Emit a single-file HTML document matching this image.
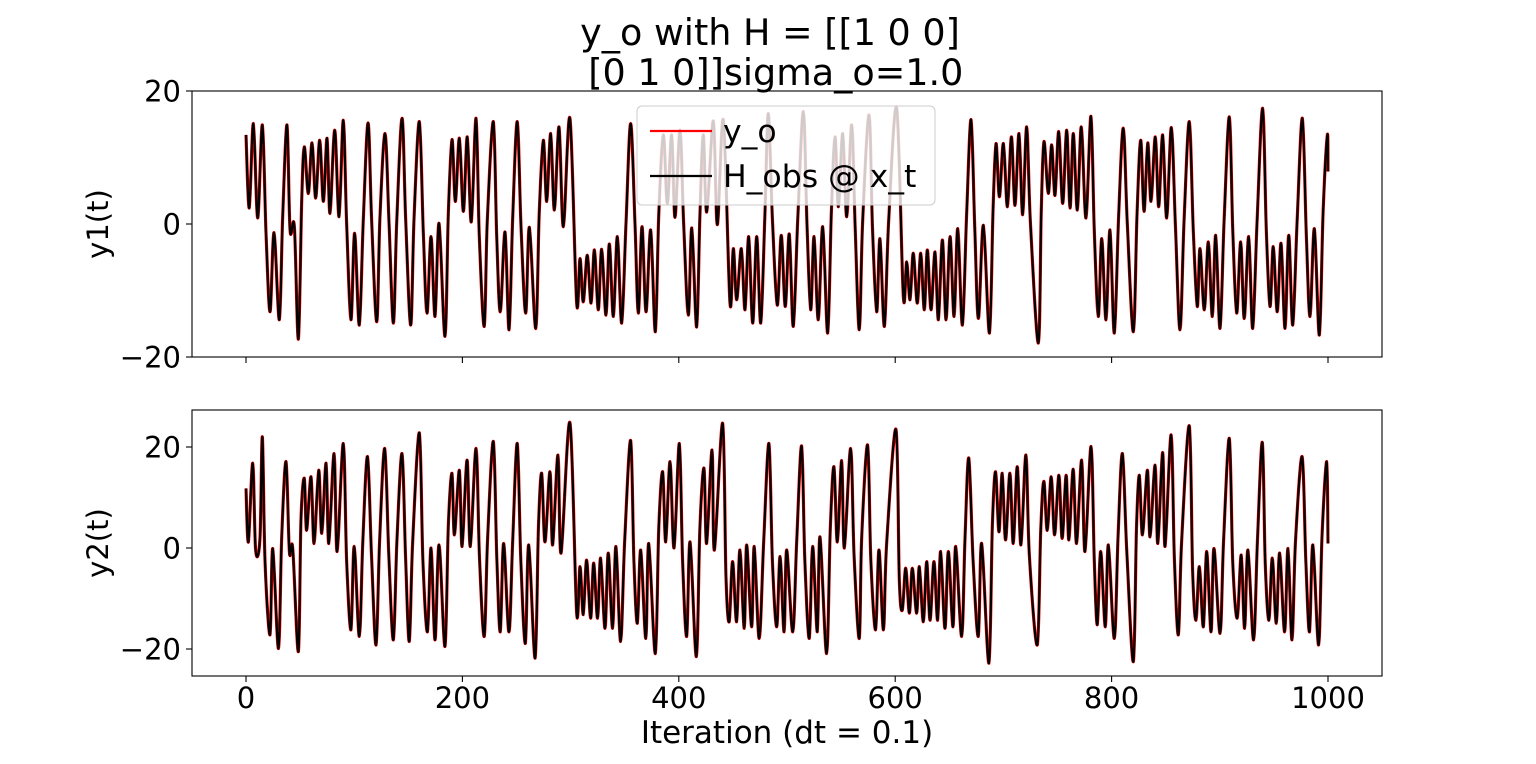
<!DOCTYPE html>
<html><head><meta charset="utf-8"><style>
body{margin:0;background:#fff;}
svg text{font-family:"DejaVu Sans","Liberation Sans",sans-serif;fill:#000;}
</style></head><body>
<svg id="chart" width="1536" height="759" xmlns="http://www.w3.org/2000/svg">
<rect width="1536" height="759" fill="#fff"/>
<text x="770" y="45" font-size="36.5" text-anchor="middle">y_o with H = [[1 0 0]</text>
<text x="770" y="85" font-size="36.5" text-anchor="middle" xml:space="preserve"> [0 1 0]]sigma_o=1.0</text>
<g id="top"></g>
<g id="bot"></g>
<text x="787" y="743" font-size="31" text-anchor="middle">Iteration (dt = 0.1)</text>
</svg>
<script>
const t1=[0,3,6.8,10.8,15.1,18.5,22.2,25.9,30.8,33.9,37.9,40.7,44.7,48.4,51.5,53.9,57.6,61,64.4,68.1,71.5,74.9,77.6,82,86,89.9,93,97,100.4,104.7,108.4,112.8,116.1,120.8,123.8,128.5,132.2,136.2,139.3,144.2,147.6,152.2,155.3,160.2,163.9,167.3,171,174.7,178.4,183.9,187,190.4,193.5,197.2,200.9,204.5,208.2,212.6,215.6,220.2,223,228.6,231.7,235,239.4,243.1,246.5,250.7,254.2,258.5,261.9,267.8,271,274.8,277.9,281.6,285,289.3,293.3,299.4,305.6,308.7,311.7,315.4,318.9,322,325.6,328.7,332.7,335.8,339.5,343.2,347.2,351.2,355.5,359.5,362.6,366,369.7,374,378.3,381.5,385.7,389.4,393.4,396.5,401.1,404.5,408.8,412,416.5,419.5,422.6,425.8,431.9,435.6,441.2,447.3,450.4,453.5,457.8,461.2,464.6,468.3,472,475.7,479.5,482.7,486.5,491,494.7,498.4,502.1,505.8,510,515.1,518.5,521.9,525,528.9,533,537.6,541,544.4,547.5,551.5,555.2,559.8,563,566.8,569.9,575.8,579,582.9,585.9,590,594,601.4,607.5,610.6,613.7,616.7,620.4,623.6,626.9,629.7,633.1,636.8,639.9,643.6,647,650.7,654.4,657.8,662.1,666,670.1,673.5,676.9,681.5,687.1,690.5,693.2,696.3,700,703.7,707.4,710.7,714.4,717.8,721.5,725,732.3,735,737.5,741.5,744.6,747.7,751.1,754.8,758.5,761.6,764.6,768.3,772,776.3,780.9,784,787.7,790.9,794.8,798.5,802.5,806.5,810.8,814.5,820.1,823.5,826.9,830,833.4,836.4,840.4,843.5,847.2,850.9,855.2,859,863.2,867,871.8,875.5,879.2,881.7,885.7,889.4,893.1,896.2,900.2,904,908.8,912,915.6,919.3,922.6,926.7,930.4,934.5,939.6,943,946.4,949.4,953.1,956.6,960.3,963.7,967.4,971.5,976.3,980,983.4,987.4,992,995.5,999.4,1000];
const y1=[13.4,2.4,15.1,0.9,14.9,-1.4,-13.2,-1.3,-14.4,1.1,14.9,-0.9,-0.4,-17.3,3.6,11.6,4.6,12.2,3.9,12.6,3.4,12.9,1.6,14.1,1.1,15.6,0.1,-14.4,-1.4,-15.2,0.6,15.2,0.6,-14.7,1.0,13.6,0.1,-14.9,0.3,15.9,0.6,-15.2,0.8,15.4,-1.4,-13.4,-1.9,-13.9,0.1,-16.9,1.6,12.7,3.4,12.9,1.9,13.1,0.3,15.9,-1.8,-15.4,0.5,15.4,-1.8,-13.2,-1.2,-15.9,1.0,15.4,-0.5,-13.4,-0.5,-15.7,1.6,12.6,3.4,13.6,2.1,14.6,-0.4,15.9,-11.9,-5.2,-11.7,-4.7,-11.9,-3.9,-12.9,-3.8,-13.7,-3.0,-13.9,-1.9,-14.9,0.1,15.1,0.1,-13.4,-0.4,-13.2,-0.9,-16.2,1.5,13.4,3.1,13.4,1.0,14.1,0.0,-13.7,-0.6,-15.5,1.2,13.4,1.8,15.5,-0.1,15.6,-11.9,-3.7,-11.4,-3.7,-12.9,-1.9,-14.9,-1.9,-14.9,1.0,16.6,0.8,-12.2,-1.7,-12.4,-1.5,-15.4,1.0,16.9,-0.2,-12.9,-1.9,-14.4,-0.4,-16.4,1.8,13.1,2.6,13.6,1.1,14.9,-0.5,-15.9,0.3,16.4,-0.6,-13.2,-2.2,-15.4,0.6,17.4,-10.9,-5.7,-11.4,-4.4,-11.9,-4.4,-12.9,-3.9,-12.9,-4.2,-14.4,-2.4,-14.4,-1.9,-13.9,-0.7,-15.2,1.4,15.7,-0.4,-14.2,-0.2,-16.4,2.5,12.1,4.1,12.1,2.6,13.1,2.8,13.6,1.4,14.6,0.1,-17.9,2.0,12.4,4.6,11.9,4.3,13.9,3.1,14.1,2.4,13.6,2.1,14.6,0.9,16.2,-1.0,-13.9,-2.2,-14.4,-0.9,-16.4,1.2,14.4,0.1,-16.2,1.5,12.6,1.9,12.2,3.4,13.1,2.6,13.4,0.9,14.5,-0.3,-15.9,0.6,15.4,-1.0,-12.4,-3.7,-12.9,-2.7,-13.9,-1.7,-15.7,0.6,16.1,-1.0,-13.4,-2.7,-14.2,-1.9,-15.7,0.6,17.4,-1.0,-12.4,-3.4,-13.2,-2.9,-15.7,-1.7,-15.2,0.6,15.9,-1.8,-13.9,-0.7,-16.7,1.9,13.4,7.9];
const t2=[0,2.2,6.2,8.9,12.9,15.1,17.6,22.2,24.7,30,33,37,40.1,43.2,48.4,50.8,53.9,56,60.1,62.9,67.2,70,74,76.5,81.4,84.2,89.9,93,97,100,104.7,108,112.3,116,120.2,123.5,128.2,132,136.2,139.5,144.2,147.5,150.9,154,160.2,163.5,167.7,171,174.7,178.4,183.9,187,190.4,192.6,197.2,199.7,204.3,207.3,212.6,215.8,220.2,223.3,228.6,231.8,235,238.1,243,246.5,250.7,254,258.2,261.3,267.2,270.3,273.3,276.3,280.9,283.4,288.3,291.2,299.4,305.6,308.7,311.7,314.8,318.5,321.3,324.9,327.7,331.8,334.8,338.8,341.9,346.2,350,355.5,358.5,361.7,364.8,369.5,372.2,378.3,381.5,385.1,387.9,391.9,395.6,400.5,403.5,407.3,410.4,416.2,419.5,423.3,425.7,430.7,432.9,440.5,443.6,446.6,449.7,453.4,456.5,460.5,462.7,467.3,469.7,474.3,478.5,483.3,486.5,490.5,493.6,497.3,499.7,505.3,509,513.5,516.5,520.6,523.7,528,530.5,536.6,540,543.4,546.5,550.5,553,558.8,562,566.8,569,574.5,577.5,581.9,585,589.1,592.1,600.7,603.8,606.6,609.7,613.1,615.8,619.8,622.3,626,629.1,632.2,635.8,639.2,642,646,649.1,653.4,655.9,661.4,664.5,668,672,676.8,679.9,686.6,689.8,692.8,695.9,698.9,702,706,709.1,712.8,716.2,720.8,724,731.3,734.5,737.4,740.5,744.2,747.3,751.3,754.3,758,760.5,764.5,767.6,772.3,775.4,781,784,786.8,789.9,794.2,797,802.5,806,810,814,820.1,823,825.7,828.5,833.1,835.5,840.2,842.7,847.2,849.4,855,858,861.7,864.7,871.8,874.9,878,881.1,884.8,887.9,891.9,894.6,900.2,903.5,908.8,912,916.1,919.8,922.9,926,931.2,934.8,939.3,942,945.4,948.5,952.2,955.3,959.9,963,966.7,970,976.1,979.5,982.9,986,991.3,994.5,998.8,1000];
const y2=[11.8,1.2,16.8,-0.4,1.9,22.0,-2.7,-17.2,-0.1,-19.9,2.2,17.1,-0.8,-0.1,-20.5,5.6,13.8,3.5,14.1,0.9,15.4,2.9,16.8,0.9,18.7,-0.7,20.7,-2.5,-16.2,0.3,-17.5,1.5,18.1,-1.5,-19.2,1.5,19.7,-1.5,-18.2,1.5,18.7,-2.0,-18.5,1.0,22.8,-2.5,-16.6,0.0,-18.2,0.6,-19.5,4.5,14.8,2.6,15.4,0.3,17.4,0.3,19.7,-2.0,-17.5,1.9,21.1,-2.0,-16.6,0.9,-16.6,1.5,20.7,-2.5,-18.9,0.6,-21.8,4.2,14.8,1.2,15.1,0.6,18.4,-1.0,24.8,-12.9,-3.7,-13.2,-2.4,-13.9,-3.0,-13.9,-2.0,-15.9,-1.0,-15.9,0.3,-18.5,1.5,21.3,-2.5,-14.9,-0.4,-17.9,0.9,-20.9,4.0,15.1,1.2,17.1,0.0,20.7,-2.5,-17.5,1.2,-21.5,4.0,15.8,0.9,19.4,-0.4,24.7,-5.7,-14.6,-2.7,-14.6,-0.4,-15.9,0.6,-15.6,0.3,-17.9,1.5,20.7,-2.5,-15.6,-1.7,-16.6,-0.4,-16.6,1.5,20.2,-2.5,-17.9,0.3,-16.6,2.2,-20.9,3.8,16.1,1.2,17.3,0.0,19.7,-1.5,-17.9,1.9,20.4,-2.5,-16.2,-0.4,-16.2,0.9,23.5,-6.3,-12.3,-4.0,-12.9,-4.0,-12.9,-3.7,-14.6,-2.7,-14.3,-2.7,-14.3,-0.7,-15.9,-0.7,-15.6,0.3,-17.5,1.8,17.8,-2.5,-17.5,0.9,-22.8,4.5,15.1,3.2,14.8,1.6,14.8,0.9,16.1,0.6,18.4,-1.5,-19.2,3.5,13.2,3.5,14.1,2.6,14.4,1.9,14.4,1.6,15.6,0.9,17.4,-0.7,20.1,-2.5,-15.2,-0.7,-15.6,0.6,-17.9,2.5,18.7,-0.5,-22.5,4.0,14.4,2.6,15.4,2.2,16.4,0.9,18.9,0.3,22.4,-2.0,-17.2,1.2,24.2,-4.7,-14.3,-3.7,-15.6,-0.7,-16.6,-0.1,-16.9,1.5,21.7,-3.0,-13.9,-1.4,-15.9,-0.4,-18.2,1.5,20.9,-3.0,-14.3,-2.0,-14.9,-1.0,-16.6,-0.1,-18.2,1.5,18.1,-2.5,-16.6,0.6,-19.2,2.5,17.1,0.9];
const xTicks=[0,200,400,600,800,1000];
const top1Ticks=[-20,0,20];
const bot2Ticks=[-20,0,20];

const NS="http://www.w3.org/2000/svg";
const X0=192,X1=1382;
const xs=v=>246+(v-0)*1.082;
function mk(tag,attrs,parent){const e=document.createElementNS(NS,tag);for(const k in attrs)e.setAttribute(k,attrs[k]);parent.appendChild(e);return e;}
function pathFrom(t,y,ysc){
  const n=Math.min(t.length,y.length);
  const P=[];for(let i=0;i<n;i++)P.push([xs(t[i]),ysc(y[i])]);
  let d="M"+P[0][0].toFixed(2)+","+P[0][1].toFixed(2);
  for(let i=0;i<P.length-1;i++){
    const p0=P[Math.max(0,i-1)],p1=P[i],p2=P[i+1],p3=P[Math.min(P.length-1,i+2)];
    const c1x=p1[0]+(p2[0]-p0[0])/6,c1y=p1[1]+(p2[1]-p0[1])/6;
    const c2x=p2[0]-(p3[0]-p1[0])/6,c2y=p2[1]-(p3[1]-p1[1])/6;
    d+=`C${c1x.toFixed(2)},${c1y.toFixed(2)} ${c2x.toFixed(2)},${c2y.toFixed(2)} ${p2[0].toFixed(2)},${p2[1].toFixed(2)}`;
  }
  return d;
}
function panel(g,yT,yB,ysc,ticks,t,y,label,showX){
  const clipId="clip"+label;
  const cp=mk("clipPath",{id:clipId},g);mk("rect",{x:X0,y:yT,width:X1-X0,height:yB-yT},cp);
  const red=mk("path",{d:pathFrom(t,y,ysc),fill:"none",stroke:"#ff0000","stroke-width":3.2,"clip-path":`url(#${clipId})`,"stroke-linejoin":"round"},g);
  
  
  const blk=mk("path",{d:pathFrom(t,y,ysc),fill:"none",stroke:"#000","stroke-width":2.2,"clip-path":`url(#${clipId})`,"stroke-linejoin":"round"},g);
  
  
  const fr=mk("rect",{x:X0,y:yT,width:X1-X0,height:yB-yT,fill:"none",stroke:"#000","stroke-width":1.1},g);
  
  
  ticks.forEach(v=>{
    const yy=ysc(v);
    mk("line",{x1:X0-6,x2:X0,y1:yy,y2:yy,stroke:"#000","stroke-width":1.1},g);
    const tx=mk("text",{x:X0-11,y:yy+10.5,"font-size":29,"text-anchor":"end"},g);
    tx.textContent=(v<0?"\u2212"+(-v):String(v));
    
    
  });
  xTicks.forEach(v=>{
    const xx=xs(v);
    mk("line",{x1:xx,x2:xx,y1:yB,y2:yB+6,stroke:"#000","stroke-width":1.1},g);
    if(showX){
      const tx=mk("text",{x:xx,y:yB+32,"font-size":29,"text-anchor":"middle"},g);
      tx.textContent=String(v);
      
      
    }
  });
  const cy=(yT+yB)/2;
  const yl=mk("text",{x:108,y:cy,"font-size":29,"text-anchor":"middle",transform:`rotate(-90 108 ${cy})`},g);
  yl.textContent=label+"(t)";
  
  
}
const ys1=v=>224-v*6.65;
const ys2=v=>548-v*5.05;
const gt=document.getElementById("top"),gb=document.getElementById("bot");
panel(gt,91,357,ys1,top1Ticks,t1,y1,"y1",false);
panel(gb,410,676,ys2,bot2Ticks,t2,y2,"y2",true);
const lg=mk("g",{},gt);


mk("rect",{x:637,y:106,width:298,height:99,rx:5,fill:"#fff","fill-opacity":0.8,stroke:"#ccc","stroke-width":1},lg);
mk("line",{x1:650,x2:712,y1:131,y2:131,stroke:"#ff0000","stroke-width":2.2},lg);
mk("line",{x1:650,x2:712,y1:176,y2:176,stroke:"#000","stroke-width":2.2},lg);
const l1=mk("text",{x:723,y:142,"font-size":31.5},lg);l1.textContent="y_o";


const l2=mk("text",{x:723,y:187,"font-size":31.5},lg);l2.textContent="H_obs @ x_t";


</script>
</body></html>
